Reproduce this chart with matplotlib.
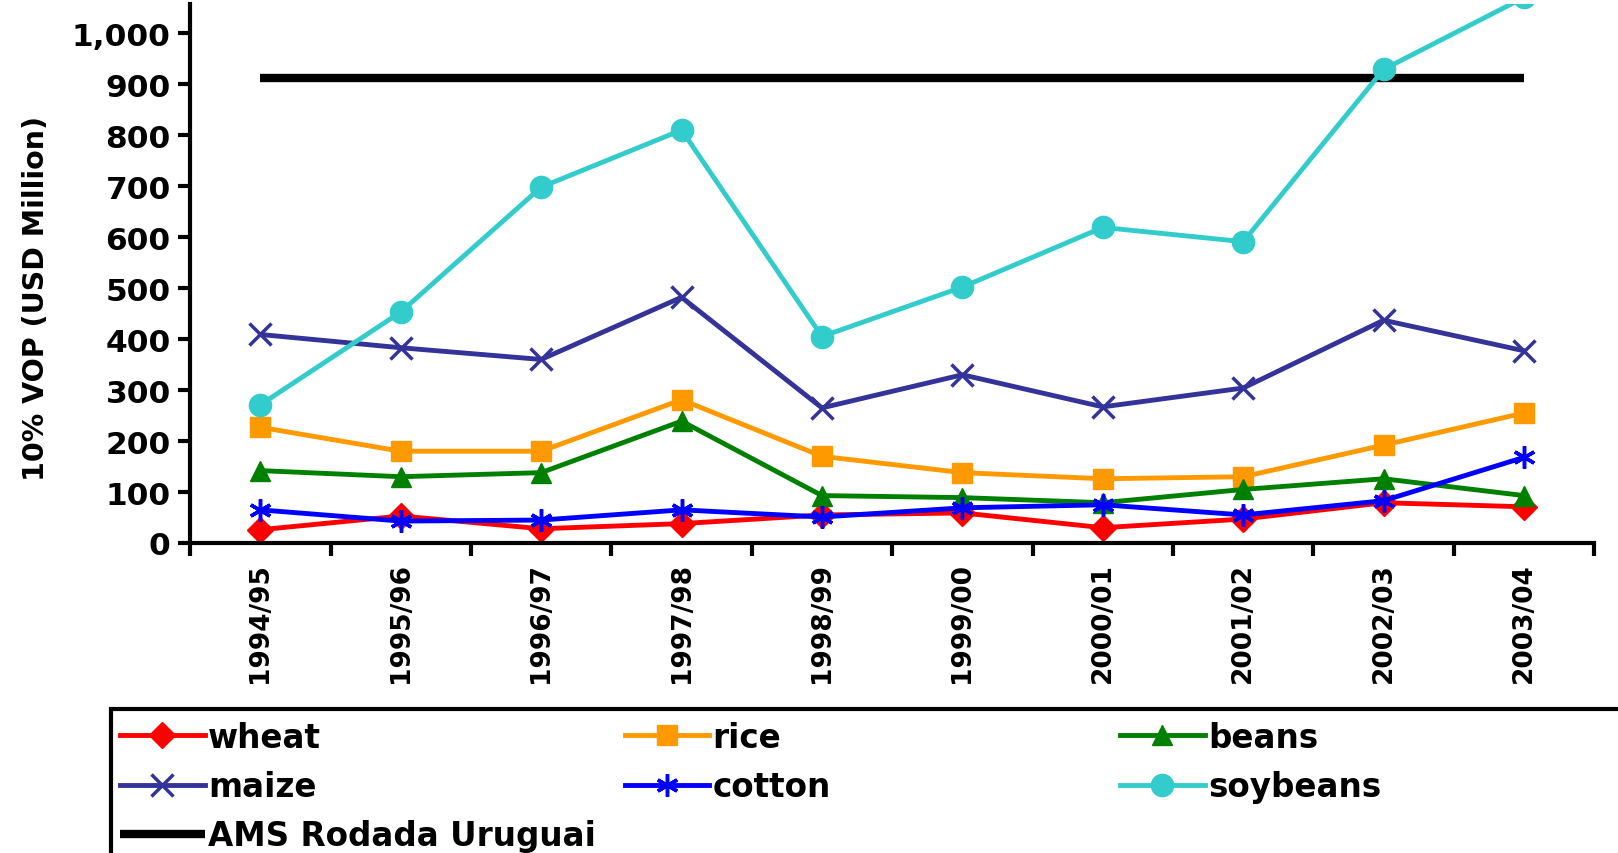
import matplotlib.pyplot as plt
from matplotlib.patches import Rectangle
import numpy as np

seasons = ["1994/95", "1995/96", "1996/97", "1997/98", "1998/99",
           "1999/00", "2000/01", "2001/02", "2002/03", "2003/04"]

wheat = [26, 53, 28, 38, 55, 59, 30, 47, 79, 71]
rice = [227, 180, 180, 281, 170, 138, 126, 130, 192, 255]
beans = [142, 130, 138, 239, 93, 89, 79, 105, 126, 93]
maize = [409, 383, 360, 482, 265, 330, 267, 304, 437, 377]
cotton = [65, 43, 45, 65, 51, 69, 75, 55, 83, 168]
soybeans = [271, 453, 698, 810, 405, 502, 619, 591, 929, 1070]
ams_level = [913] * len(seasons)

y_ticks = [0, 100, 200, 300, 400, 500, 600, 700, 800, 900, 1000]


def plot_chart():
    plt.rcParams['font.family'] = ['DejaVu Sans']
    plt.rcParams['font.weight'] = 'bold'

    fig = plt.figure(figsize=(16.18, 8.54), dpi=100)
    ax = fig.add_axes([0.1175, 0.363, 0.8678, 0.631])

    x = np.arange(len(seasons))

    # AMS line first so the series sit over it
    ams, = ax.plot(x, ams_level, color='black', lw=6, solid_capstyle='butt',
                   label='AMS Rodada Uruguai', zorder=1)
    l_wheat, = ax.plot(x, wheat, color='#ff0000', lw=3.5, marker='D', ms=13,
                       label='wheat', zorder=2)
    l_rice, = ax.plot(x, rice, color='#ff9900', lw=3.5, marker='s', ms=15,
                      label='rice', zorder=2)
    l_beans, = ax.plot(x, beans, color='#008000', lw=3.5, marker='^', ms=15,
                       label='beans', zorder=2)
    l_maize, = ax.plot(x, maize, color='#333399', lw=3.5, marker='x', ms=16,
                       mew=2.5, label='maize', zorder=2)
    l_cotton, = ax.plot(x, cotton, color='#0000ff', lw=3.5, marker=(6, 2, 0),
                        ms=16, mew=2.5, label='cotton', zorder=3)
    l_soy, = ax.plot(x, soybeans, color='#33cccc', lw=3.5, marker='o', ms=16,
                     label='soybeans', zorder=3)

    ax.set_xlim(-0.5, len(seasons) - 0.5)
    ax.set_ylim(0, 1057)

    for side in ['top', 'right']:
        ax.spines[side].set_visible(False)
    for side in ['left', 'bottom']:
        ax.spines[side].set_linewidth(3)

    ax.set_yticks(y_ticks)
    ax.set_yticklabels(["{:,}".format(v) for v in y_ticks])
    ax.tick_params(axis='y', length=9, width=3, labelsize=22.5, pad=5)

    ax.set_xticks(x)
    ax.set_xticklabels(seasons, rotation=90, fontsize=19)
    ax.set_xticks(np.arange(len(seasons) + 1) - 0.5, minor=True)
    ax.tick_params(axis='x', which='major', length=0, pad=14)
    ax.tick_params(axis='x', which='minor', length=9, width=3)

    ax.set_ylabel("10% VOP (USD Million)", fontsize=20.5, fontweight='bold')
    ax.yaxis.set_label_coords(-0.1, 0.455)

    # legend frame runs off the right and bottom edges like the original
    fig.patches.append(Rectangle((0.0686, -0.2), 1.0, 0.3686,
                                 transform=fig.transFigure, fill=False,
                                 edgecolor='black', linewidth=3,
                                 clip_on=False))

    columns = [([l_wheat, l_maize, ams], 0.074),
               ([l_rice, l_cotton], 0.386),
               ([l_beans, l_soy], 0.692)]
    for handles, x_left in columns:
        fig.legend(handles=handles, loc='upper left',
                   bbox_to_anchor=(x_left, 0.155),
                   fontsize=23.5, frameon=False,
                   handlelength=2.6, handletextpad=0.1,
                   labelspacing=0.5, borderaxespad=0, borderpad=0,
                   numpoints=1)

    plt.savefig('out.png', dpi=100)


if __name__ == '__main__':
    plot_chart()
